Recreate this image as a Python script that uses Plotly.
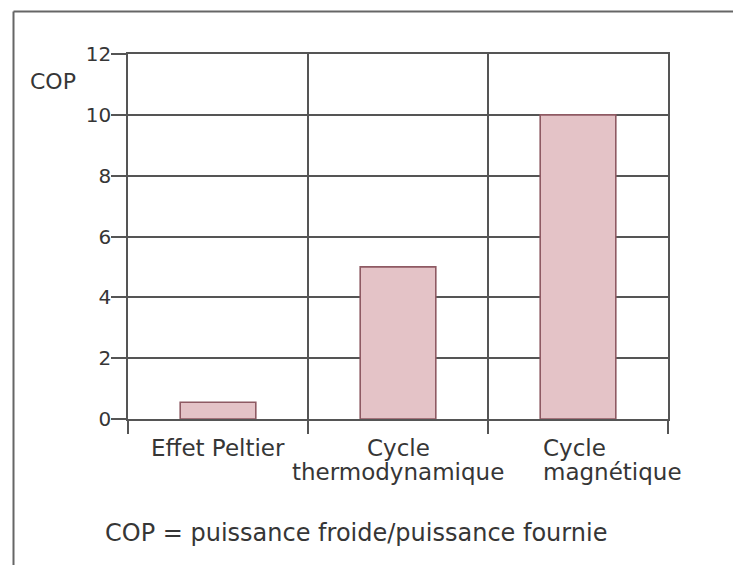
import plotly.graph_objects as go

categories = ["Effet Peltier", "Cycle thermodynamique", "Cycle magnétique"]
category_lines = [["Effet Peltier"], ["Cycle", "thermodynamique"], ["Cycle", "magnétique"]]
cop_values = [0.55, 5.0, 10.0]
y_ticks = [0, 2, 4, 6, 8, 10, 12]
y_label = "COP"
footnote = "COP = puissance froide/puissance fournie"

FONT = "DejaVu Sans"
TXT = "#363636"
GRID = "#555555"

# the page body adds an 8px offset; positions below are screen pixels minus that
OFF = 8
W, H = 741, 565
ml, mr, mt, mb = 128 - OFF, W - (668 - OFF), 54 - OFF, H - (419 - OFF)
pw, ph = W - ml - mr, H - mt - mb

def px_x(x):
    return (x - OFF - ml) / pw

def px_y(y):
    return 1 - (y - OFF - mt) / ph

fig = go.Figure()
fig.add_trace(go.Bar(
    x=categories, y=cop_values, width=0.42,
    marker=dict(color="#E4C3C7", line=dict(color="#8E5A63", width=1.6)),
    hoverinfo="skip",
))

fig.update_layout(
    width=W, height=H,
    margin=dict(l=ml, r=mr, t=mt, b=mb),
    paper_bgcolor="white", plot_bgcolor="white",
    showlegend=False,
    font=dict(family=FONT, size=20, color=TXT),
    xaxis=dict(
        type="category", range=[-0.5, 2.5], tickson="boundaries",
        ticks="outside", ticklen=13, tickcolor=GRID, tickwidth=1.6,
        showgrid=True, gridcolor=GRID, gridwidth=1.6,
        showline=True, linecolor=GRID, linewidth=1.6, mirror=True,
        showticklabels=False,
    ),
    yaxis=dict(
        range=[0, 12], tickvals=y_ticks,
        ticks="outside", ticklen=15, tickcolor=GRID, tickwidth=1.6,
        ticklabelstandoff=-4,
        showgrid=True, gridcolor=GRID, gridwidth=1.6, zeroline=False,
        showline=True, linecolor=GRID, linewidth=1.6, mirror=True,
        tickfont=dict(family=FONT, size=20, color=TXT),
    ),
)

line_y = [448, 472]
for idx, (cat, lines) in enumerate(zip(categories, category_lines)):
    for i, ln in enumerate(lines):
        if idx == 2:
            # last label is pushed right and left-aligned in the original
            fig.add_annotation(xref="paper", yref="paper", x=px_x(541), y=px_y(line_y[i]),
                               text=ln, showarrow=False, xanchor="left", yanchor="middle",
                               font=dict(family=FONT, size=23, color=TXT))
        else:
            fig.add_annotation(xref="x", yref="paper", x=cat, y=px_y(line_y[i]),
                               text=ln, showarrow=False, xanchor="center", yanchor="middle",
                               font=dict(family=FONT, size=23, color=TXT))

fig.add_annotation(xref="paper", yref="paper", x=px_x(53), y=px_y(81),
                   text=y_label, showarrow=False, xanchor="center", yanchor="middle",
                   font=dict(family=FONT, size=22, color=TXT))
fig.add_annotation(xref="paper", yref="paper", x=px_x(103), y=px_y(533),
                   text=footnote, showarrow=False,
                   xanchor="left", yanchor="middle",
                   font=dict(family=FONT, size=24, color=TXT))

# outer frame (left and top edges)
fx, fy = px_x(13.5), px_y(11.5)
fig.add_shape(type="line", xref="paper", yref="paper", x0=fx, x1=fx, y0=px_y(620), y1=fy,
              line=dict(color="#666666", width=2))
fig.add_shape(type="line", xref="paper", yref="paper", x0=fx, x1=px_x(820), y0=fy, y1=fy,
              line=dict(color="#666666", width=2))

fig.write_html("out.html")
